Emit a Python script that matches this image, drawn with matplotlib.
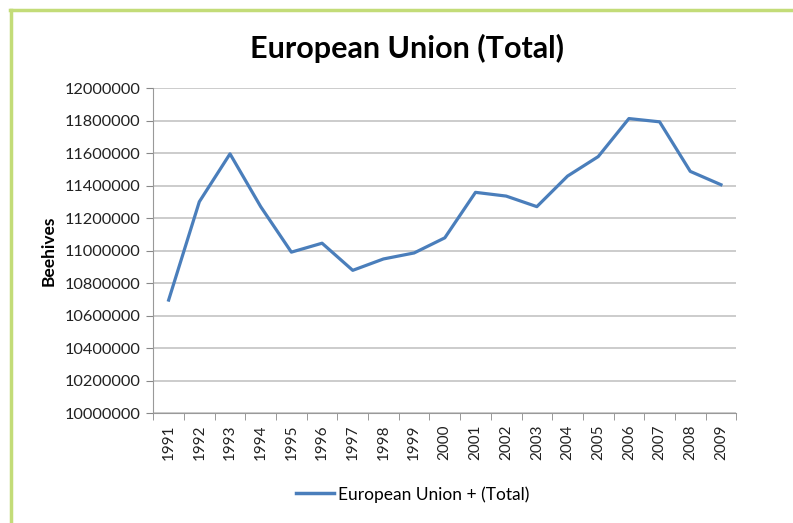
import matplotlib.pyplot as plt
from matplotlib.lines import Line2D
from matplotlib.ticker import FixedLocator

years = ["1991", "1992", "1993", "1994", "1995", "1996", "1997", "1998", "1999", "2000",
         "2001", "2002", "2003", "2004", "2005", "2006", "2007", "2008", "2009"]
beehives = [10695000, 11300000, 11595000, 11270000, 10990000, 11045000, 10878000, 10948000,
            10985000, 11078000, 11358000, 11335000, 11270000, 11458000, 11578000, 11812000,
            11792000, 11487000, 11405000]
y_ticks = list(range(10000000, 12000001, 200000))

plt.rcParams['font.family'] = ['Lato', 'DejaVu Sans']

fig = plt.figure(figsize=(7.93, 5.23), dpi=100)
ax = fig.add_axes([0.1933, 0.2103, 0.7352, 0.6214])

x = list(range(len(years)))
ax.plot(x, beehives, color="#4a7ebb", lw=2.3, solid_joinstyle="round")

ax.set_xlim(-0.5, len(years) - 0.5)
ax.set_ylim(10000000, 12000000)
ax.set_yticks(y_ticks)
ax.set_yticklabels([str(v) for v in y_ticks], fontsize=11.8, color="#222222")
ax.set_xticks(x)
ax.set_xticklabels(years, rotation=90, fontsize=11, color="#222222")
ax.tick_params(axis="x", length=0, pad=8)
ax.xaxis.set_minor_locator(FixedLocator([i - 0.5 for i in range(len(years) + 1)]))
ax.tick_params(axis="x", which="minor", length=5, color="#888888")
ax.tick_params(axis="y", length=5, color="#888888", pad=4)

ax.grid(axis="y", color="#c8c8c8", lw=1.3)
ax.set_axisbelow(True)
for s in ["top", "right"]:
    ax.spines[s].set_visible(False)
ax.spines["left"].set_color("#999999")
ax.spines["bottom"].set_color("#999999")

ax.set_ylabel("Beehives", fontsize=12.5, fontweight="bold", labelpad=6)
fig.text(0.513, 0.907, "European Union (Total)", ha="center", va="center",
         fontsize=22, fontweight="bold")

h = Line2D([], [], color="#4a7ebb", lw=2.5)
fig.legend([h], ["European Union + (Total)"], loc="center", bbox_to_anchor=(0.52, 0.055),
           frameon=False, fontsize=12.5, handlelength=2.2, handletextpad=0.2)

# green frame at top and left
fig.add_artist(Line2D([0.0125, 1.0], [0.980, 0.980], color="#c3dc78", lw=2.5))
fig.add_artist(Line2D([0.0139, 0.0139], [0.0, 0.981], color="#c3dc78", lw=2.5))

fig.savefig("out.png", dpi=100)
